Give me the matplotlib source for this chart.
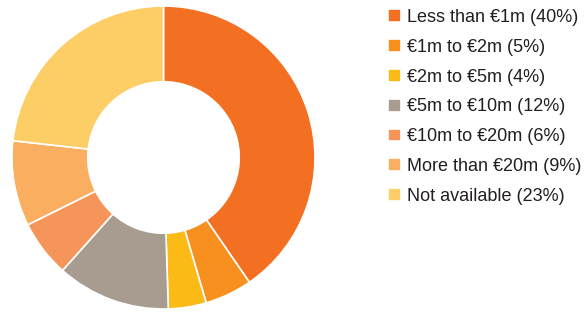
import matplotlib
matplotlib.use("Agg")
import matplotlib.pyplot as plt

# Revenue bands and their shares (%)
labels = [
    "Less than €1m",
    "€1m to €2m",
    "€2m to €5m",
    "€5m to €10m",
    "€10m to €20m",
    "More than €20m",
    "Not available",
]
shares = [40, 5, 4, 12, 6, 9, 23]
colors = ["#F36F21", "#F7901E", "#FBBA16", "#A89B90", "#F5955A", "#F9AE60", "#FDCD66"]

plt.rcParams["font.family"] = ["Liberation Sans", "DejaVu Sans"]

fig = plt.figure(figsize=(5.86, 3.12), dpi=100)
ax = fig.add_axes([12 / 586, 3 / 312, 303 / 586, 303 / 312])

wedges, _ = ax.pie(
    shares,
    colors=colors,
    startangle=90,
    counterclock=False,
    radius=1.0,
    wedgeprops=dict(width=0.5, edgecolor="white", linewidth=1.2),
)
ax.set_xlim(-1, 1)
ax.set_ylim(-1, 1)
ax.set_aspect("equal")
ax.axis("off")

legend_labels = [f"{lab} ({v}%)" for lab, v in zip(labels, shares)]
fig.legend(
    wedges,
    legend_labels,
    loc="upper left",
    bbox_to_anchor=(388 / 586, 1 - 9 / 312),
    frameon=False,
    borderpad=0,
    borderaxespad=0,
    handlelength=0.72,
    handleheight=0.72,
    handletextpad=0.35,
    labelspacing=0.71,
    fontsize=13,
    labelcolor="#231F20",
)

fig.savefig("out.png", dpi=100)
